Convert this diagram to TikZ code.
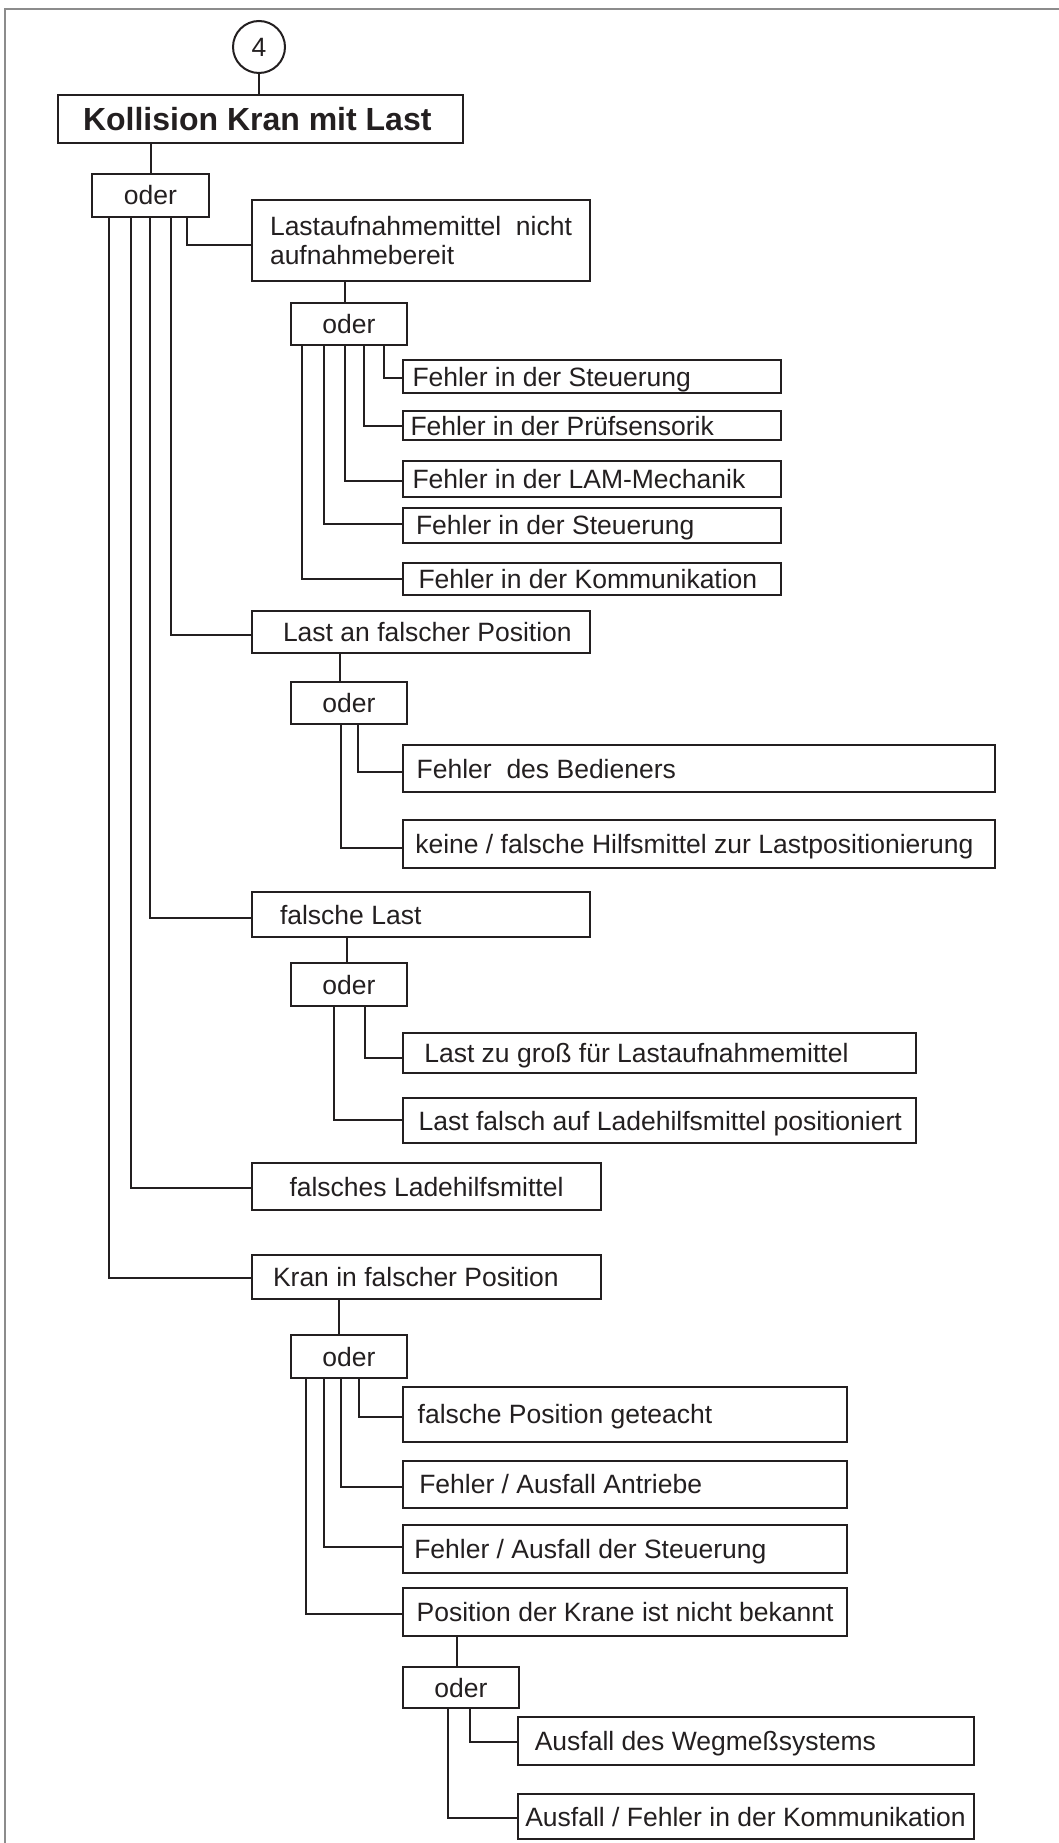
\documentclass[tikz,border=0pt]{standalone}
\usepackage{fontspec}
\setmainfont{Liberation Sans}
\definecolor{ink}{HTML}{231F20}
\definecolor{framegray}{HTML}{8C8C8C}

% event box: name, x1, y1, x2, y2, left text inset, text
\newcommand\evbox[7]{%
  \pgfmathsetmacro\evw{#4-#2}%
  \pgfmathsetmacro\evh{#5-#3}%
  \pgfmathsetmacro\evt{#4-#2-2*#6}%
  \node[box, oneline, minimum width=\evw pt, minimum height=\evh pt] (#1) at (#2,#3) {\makebox[\evt pt][l]{#7}};%
}
% "oder" gate: name, x1, y1, x2, y2
\newcommand\orbox[5]{%
  \pgfmathsetmacro\evw{#4-#2}%
  \pgfmathsetmacro\evh{#5-#3}%
  \node[box, oneline, minimum width=\evw pt, minimum height=\evh pt] (#1) at (#2,#3) {oder};%
}

\begin{document}
\begin{tikzpicture}[x=1pt,y=-1pt,
  box/.style={draw=ink, line width=2pt, rectangle, inner sep=0pt, anchor=north west,
    text=ink, font=\fontsize{26.5}{29}\selectfont},
  oneline/.style={text height=19pt, text depth=0pt},
  conn/.style={draw=ink, line width=2pt}]

\useasboundingbox (0,0) rectangle (1059,1843);

% page frame
\draw[framegray, line width=1.6pt] (1059,9) -- (5,9) -- (5,1843);

% top event
\node[draw=ink, line width=2pt, circle, minimum size=52pt, inner sep=0pt, text=ink,
  font=\fontsize{26.5}{29}\selectfont] (c4) at (259,47) {4};
\node[box, text height=23pt, text depth=0pt, font=\bfseries\fontsize{32}{36}\selectfont,
  minimum width=405pt, minimum height=48pt] (T) at (57,94) {\makebox[355pt][l]{Kollision Kran mit Last}};
\draw[conn] (c4.south) -- (c4.south |- T.north);

% first level
\orbox{O0}{91}{173}{208}{216}
\draw[conn] (O0.north) -- (O0.north |- T.south);

\node[box, align=left, minimum width=338pt, minimum height=81pt] (A1) at (251,199)
  {Lastaufnahmemittel\ \ nicht\\aufnahmebereit};
\evbox{A2}{251}{610}{588.5}{652}{31}{Last an falscher Position}
\evbox{A3}{251}{891}{588.5}{936}{28}{falsche Last}
\evbox{A4}{251}{1162}{600}{1209}{37.5}{falsches Ladehilfsmittel}
\evbox{A5}{251}{1254}{600}{1298}{21}{Kran in falscher Position}

\draw[conn] ([xshift=96pt]O0.south west) |- ([yshift=-4.5pt]A1.west);
\draw[conn] ([xshift=79.5pt]O0.south west) |- ([yshift=-3pt]A2.west);
\draw[conn] ([xshift=59pt]O0.south west) |- ([yshift=-3.5pt]A3.west);
\draw[conn] ([xshift=40pt]O0.south west) |- ([yshift=-1.5pt]A4.west);
\draw[conn] ([xshift=18pt]O0.south west) |- ([yshift=-1pt]A5.west);

% Lastaufnahmemittel nicht aufnahmebereit
\orbox{O1}{290}{302}{406}{344}
\draw[conn] ([xshift=-4pt]O1.north) -- ([xshift=-4pt]O1.north |- A1.south);
\evbox{B1}{401.5}{359.3}{780}{391.7}{10}{Fehler in der Steuerung}
\evbox{B2}{401.5}{410}{780}{439}{8}{Fehler in der Prüfsensorik}
\evbox{B3}{401.5}{460.3}{780}{496}{10}{Fehler in der LAM-Mechanik}
\evbox{B4}{401.5}{506.7}{780}{541.7}{13.5}{Fehler in der Steuerung}
\evbox{B5}{401.5}{561.7}{780}{594}{16}{Fehler in der Kommunikation}
\draw[conn] ([xshift=94pt]O1.south west) |- ([yshift=-1pt]B1.west);
\draw[conn] ([xshift=74pt]O1.south west) |- (B2.west);
\draw[conn] ([xshift=55pt]O1.south west) |- ([yshift=-2pt]B3.west);
\draw[conn] ([xshift=34pt]O1.south west) |- ([yshift=1.5pt]B4.west);
\draw[conn] ([xshift=12pt]O1.south west) |- (B5.west);

% Last an falscher Position
\orbox{O2}{290}{681}{406}{723}
\draw[conn] ([xshift=-9.3pt]O2.north) -- ([xshift=-9.3pt]O2.north |- A2.south);
\evbox{C1}{401.7}{744}{994}{791}{14}{Fehler\ \ des Bedieners}
\evbox{C2}{401.7}{819.3}{994}{866.7}{12.6}{keine / falsche Hilfsmittel zur Lastpositionierung}
\draw[conn] ([xshift=68.3pt]O2.south west) |- ([yshift=-3.5pt]C1.west);
\draw[conn] ([xshift=50.7pt]O2.south west) |- ([yshift=-4.3pt]C2.west);

% falsche Last
\orbox{O3}{290}{962}{406}{1005}
\draw[conn] ([xshift=-2pt]O3.north) -- ([xshift=-2pt]O3.north |- A3.south);
\evbox{D1}{401.7}{1031.7}{915}{1072.3}{21.6}{Last zu groß für Lastaufnahmemittel}
\evbox{D2}{401.7}{1097.3}{915}{1142.3}{16}{Last falsch auf Ladehilfsmittel positioniert}
\draw[conn] ([xshift=75pt]O3.south west) |- ([yshift=-5.3pt]D1.west);
\draw[conn] ([xshift=44.3pt]O3.south west) |- ([yshift=1.1pt]D2.west);

% Kran in falscher Position
\orbox{O4}{290}{1334}{406}{1377}
\draw[conn] ([xshift=-10.3pt]O4.north) -- ([xshift=-10.3pt]O4.north |- A5.south);
\evbox{E1}{401.7}{1385.7}{846}{1440.7}{15}{falsche Position geteacht}
\evbox{E2}{401.7}{1460}{846}{1506.7}{16.6}{Fehler / Ausfall Antriebe}
\evbox{E3}{401.7}{1524}{846}{1571.7}{11.6}{Fehler / Ausfall der Steuerung}
\evbox{E4}{401.7}{1587.3}{846}{1635}{14}{Position der Krane ist nicht bekannt}
\draw[conn] ([xshift=69.3pt]O4.south west) |- ([yshift=-2.8pt]E1.west);
\draw[conn] ([xshift=50.7pt]O4.south west) |- ([yshift=-3pt]E2.west);
\draw[conn] ([xshift=33.7pt]O4.south west) |- ([yshift=1.8pt]E3.west);
\draw[conn] ([xshift=16pt]O4.south west) |- ([yshift=-2.1pt]E4.west);

% Position der Krane ist nicht bekannt
\orbox{O5}{401.7}{1666}{518.3}{1707.3}
\draw[conn] ([xshift=-4pt]O5.north) -- ([xshift=-4pt]O5.north |- E4.south);
\evbox{F1}{517.3}{1716}{973}{1764.3}{16.5}{Ausfall des Wegmeßsystems}
\evbox{F2}{517.3}{1793.3}{973}{1838.3}{7}{Ausfall / Fehler in der Kommunikation}
\draw[conn] ([xshift=68pt]O5.south west) |- ([yshift=-1pt]F1.west);
\draw[conn] ([xshift=46.3pt]O5.south west) |- ([yshift=-1.5pt]F2.west);

\end{tikzpicture}
\end{document}
